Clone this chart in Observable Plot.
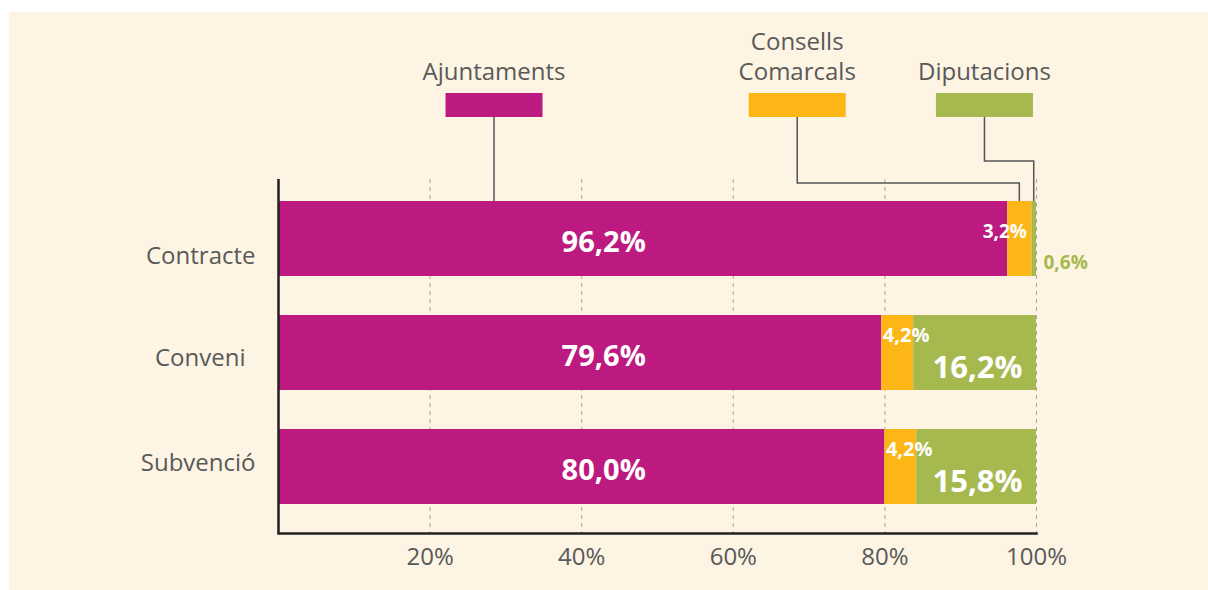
<!DOCTYPE html>
<html>
<head>
<meta charset="utf-8">
<script src="https://cdn.jsdelivr.net/npm/d3@7"></script>
<script src="https://cdn.jsdelivr.net/npm/@observablehq/plot@0.6"></script>
<style>
  html, body { margin: 0; padding: 0; background: #ffffff; width: 1208px; height: 590px; overflow: hidden; }
  #panel { position: absolute; left: 9px; top: 12px; right: 0; bottom: 0; background: #fdf4e3; }
  #chart { position: absolute; left: 0; top: 0; }
</style>
</head>
<body>
<div id="panel"></div>
<div id="chart"></div>
<script>
// ---- data ----
const categories = ["Contracte", "Conveni", "Subvenció"];
const series = ["Ajuntaments", "Consells Comarcals", "Diputacions"];
const ajuntaments = [96.2, 79.6, 80.0];
const consellsComarcals = [3.2, 4.2, 4.2];
const diputacions = [0.6, 16.2, 15.8];
const xTicks = [20, 40, 60, 80, 100];
const xTickLabels = ["20%", "40%", "60%", "80%", "100%"];
const legendLines = [["Ajuntaments"], ["Consells", "Comarcals"], ["Diputacions"]];

// ---- style / layout ----
const colors = ["#bc1a80", "#fcb716", "#a6b94f"];
const textGray = "#595959";
const font = "'Open Sans', 'Noto Sans', sans-serif";
const legendCenters = [28.5, 68.5, 93.2]; // legend anchor positions along x (in % units)
const mainLabelX = 42.9;
const yLabelOffsets = [{dx: 0, dy: 17}, {dx: -10, dy: 5}, {dx: 0, dy: -4}];

const fmt = v => v.toFixed(1).replace(".", ",") + "%";

const seriesValues = [ajuntaments, consellsComarcals, diputacions];
const table = [];
categories.forEach((c, i) => {
  let acc = 0;
  series.forEach((s, j) => {
    const v = seriesValues[j][i];
    table.push({category: c, series: s, value: v, start: acc, end: acc + v, label: fmt(v), small: diputacions[i] < 5});
    acc += v;
  });
});

const W = 1208, H = 590;
const chart = Plot.plot({
  width: W,
  height: H,
  marginLeft: 278,
  marginRight: W - 1036,
  marginTop: 179,
  marginBottom: H - 533,
  style: {background: "transparent", fontFamily: font, color: textGray, overflow: "visible"},
  x: {domain: [0, 100]},
  y: {domain: categories, range: [200, 506], paddingInner: 0.339, paddingOuter: 0},
  color: {domain: series, range: colors},
  marks: [
    Plot.ruleX(xTicks, {stroke: "#a9a9a2", strokeWidth: 1, strokeDasharray: "4,4"}),
    Plot.barX(table, {x1: "start", x2: "end", y: "category", fill: "series"}),
    Plot.ruleX([0], {stroke: "#222", strokeWidth: 2.5}),
    Plot.frame({anchor: "bottom", stroke: "#222", strokeWidth: 2.5}),
    Plot.axisX({ticks: xTicks, tickFormat: d => xTickLabels[xTicks.indexOf(d)], tickSize: 0, tickPadding: 14, fontSize: 24, fontFamily: font, fill: textGray, label: null}),
    ...categories.map((c, i) => Plot.axisY([c], {tickSize: 0, tickPadding: 23, fontSize: 24, fontFamily: font, fill: textGray, label: null, dx: yLabelOffsets[i].dx, dy: yLabelOffsets[i].dy})),
    // Ajuntaments labels
    Plot.text(table.filter(d => d.series === series[0]), {x: () => mainLabelX, y: "category", text: "label", fill: "white", fontSize: 29, fontWeight: "bold", fontFamily: font, dy: 4}),
    // Consells labels (wide rows)
    Plot.text(table.filter(d => d.series === series[1] && !d.small), {x: "start", y: "category", text: "label", fill: "white", fontSize: 20, fontWeight: "bold", fontFamily: font, textAnchor: "start", dx: 1, dy: -17}),
    // Consells labels (narrow row)
    Plot.text(table.filter(d => d.series === series[1] && d.small), {x: "end", y: "category", text: "label", fill: "white", fontSize: 19, fontWeight: "bold", fontFamily: font, textAnchor: "end", dx: -5, dy: -7}),
    // Diputacions labels (inside)
    Plot.text(table.filter(d => d.series === series[2] && !d.small), {x: "end", y: "category", text: "label", fill: "white", fontSize: 31, fontWeight: "bold", fontFamily: font, textAnchor: "end", dx: -14, dy: 15}),
    // Diputacions labels (outside)
    Plot.text(table.filter(d => d.series === series[2] && d.small), {x: "end", y: "category", text: "label", fill: colors[2], fontSize: 19, fontWeight: "bold", fontFamily: font, textAnchor: "start", dx: 7, dy: 24})
  ]
});

// ---- legend with connectors (positions through the plot's scales) ----
const xs = chart.scale("x");
const ys = chart.scale("y");
const svg = d3.select(chart);
const barTop = ys.apply(categories[0]);
const first = table.filter(d => d.category === categories[0]);
const segMid = j => xs.apply((first[j].start + first[j].end) / 2);
const swW = 97, swTop = 93, swH = 24, lineBase = 80, lineGap = 30;
const elbowY = [null, 183, 161];

const g = svg.append("g");
series.forEach((s, j) => {
  const cx = xs.apply(legendCenters[j]);
  const lines = legendLines[j];
  lines.forEach((t, k) => {
    g.append("text")
      .attr("x", cx).attr("y", lineBase - (lines.length - 1 - k) * lineGap)
      .attr("text-anchor", "middle")
      .attr("font-family", font).attr("font-size", 24).attr("fill", textGray)
      .text(t);
  });
  g.append("rect")
    .attr("x", cx - swW / 2).attr("y", swTop).attr("width", swW).attr("height", swH)
    .attr("fill", colors[j]);
  let pts;
  if (elbowY[j] == null) {
    pts = [[cx, swTop + swH], [cx, barTop]];
  } else {
    const tx = segMid(j);
    pts = [[cx, swTop + swH], [cx, elbowY[j]], [tx, elbowY[j]], [tx, barTop]];
  }
  g.append("path")
    .attr("d", d3.line()(pts))
    .attr("fill", "none").attr("stroke", "#555").attr("stroke-width", 1.5);
});

document.getElementById("chart").appendChild(chart);
</script>
</body>
</html>
